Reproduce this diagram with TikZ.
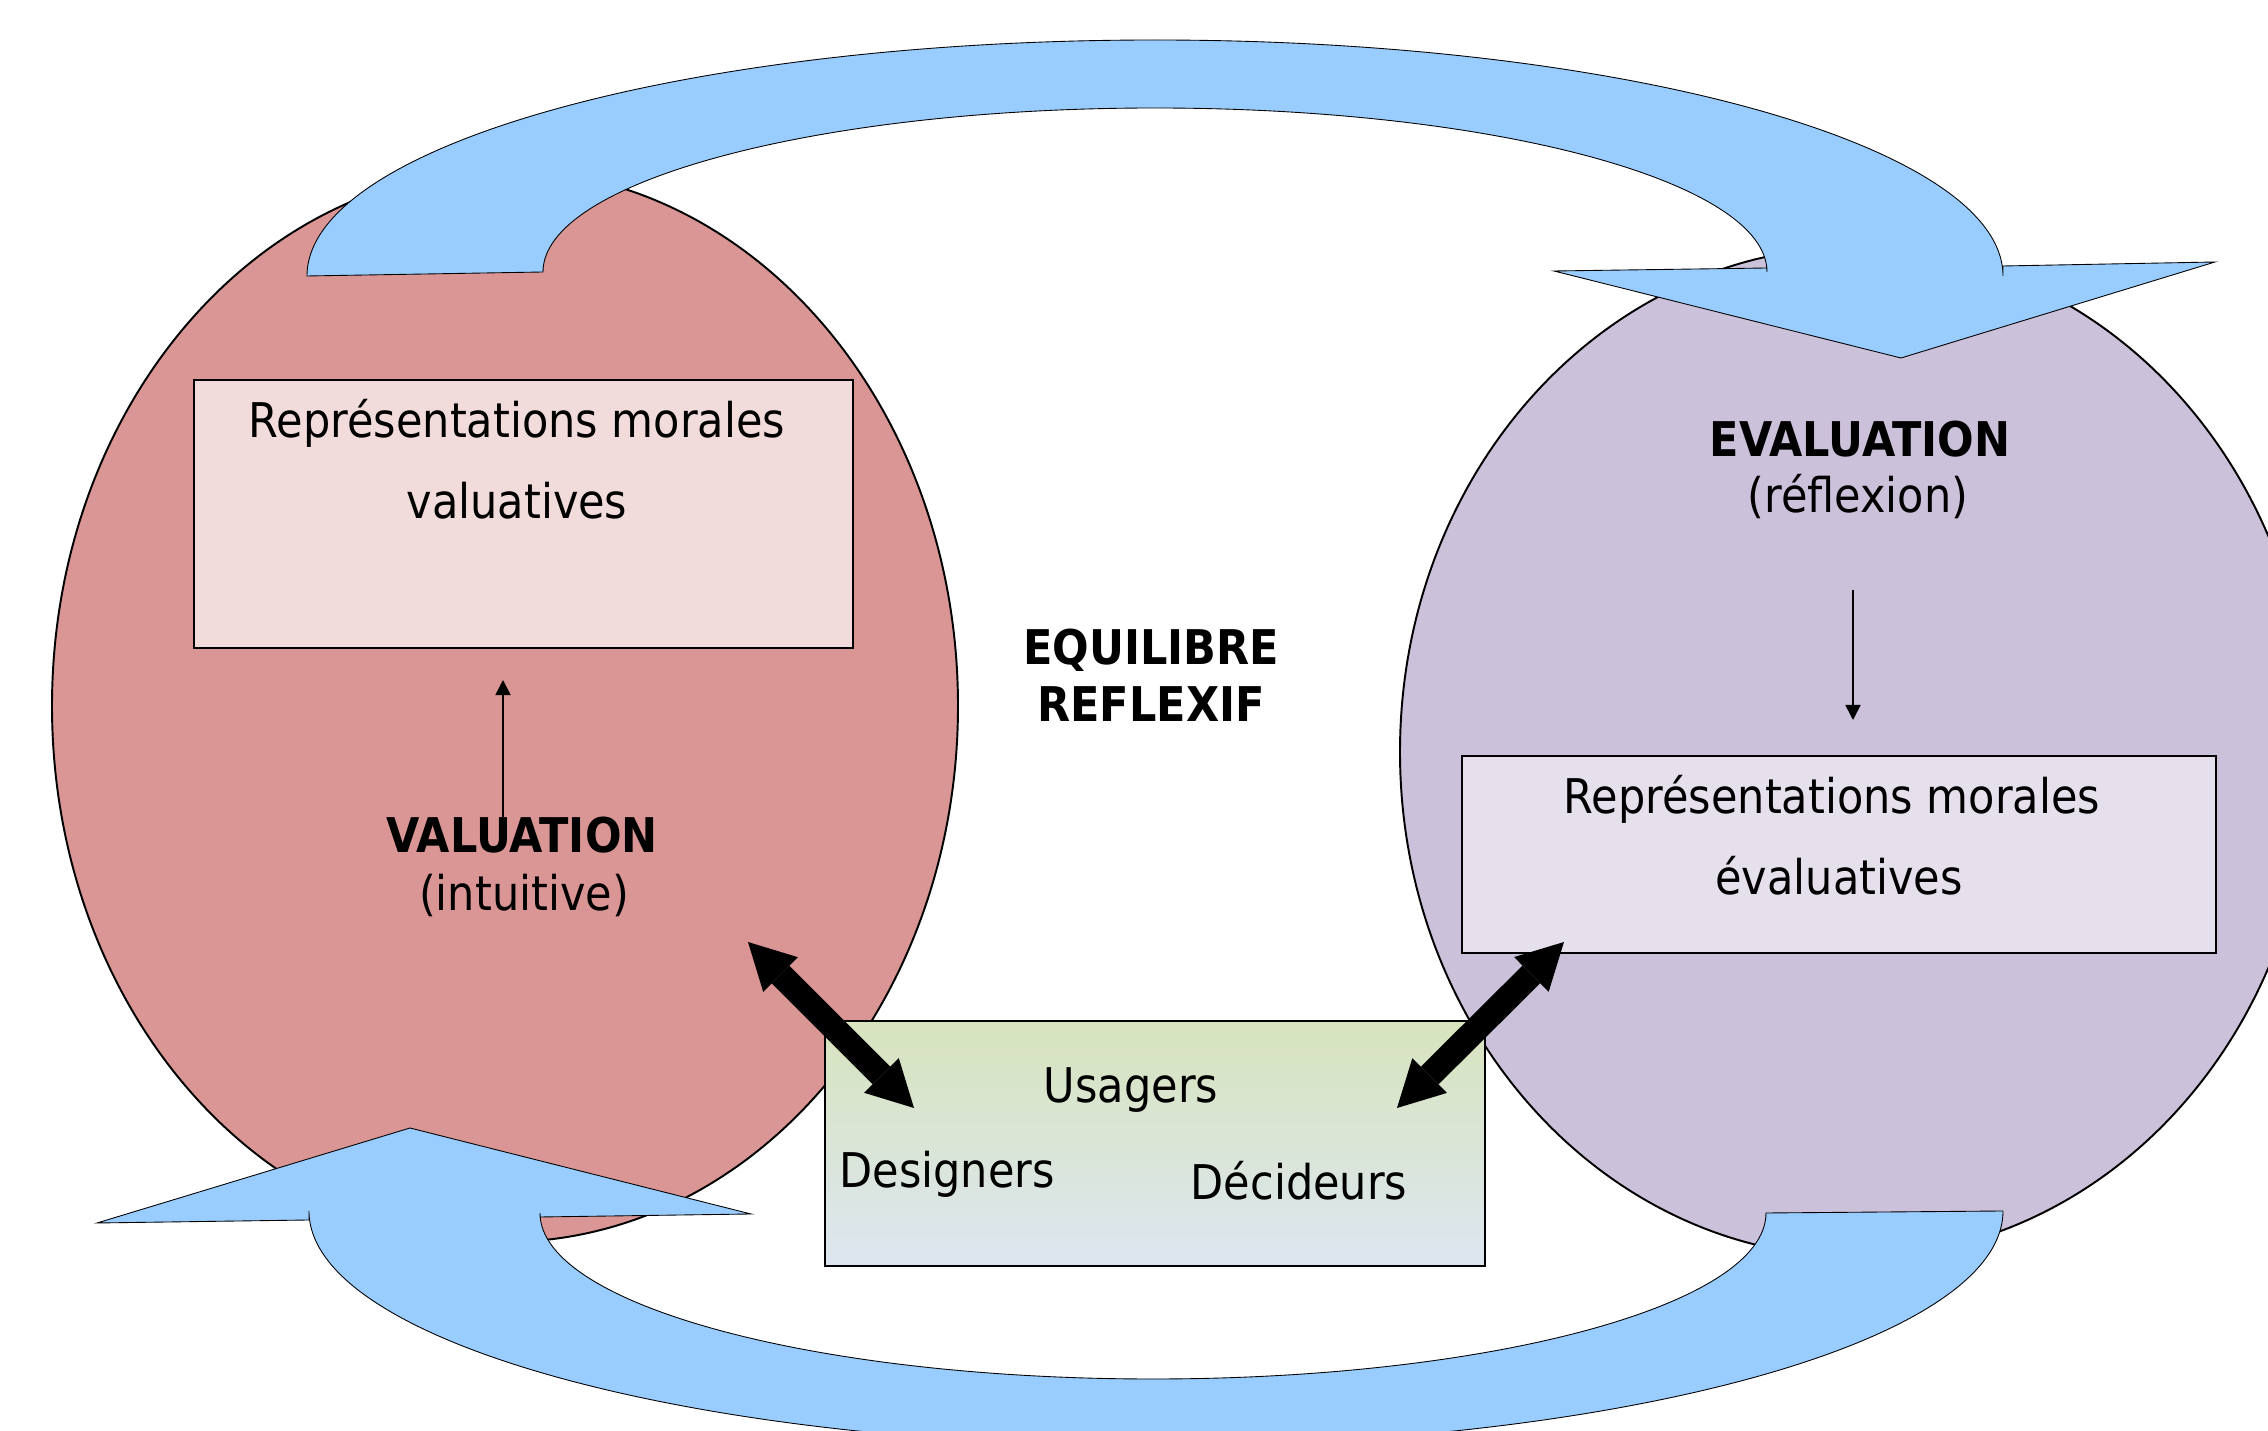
\documentclass[tikz,border=0pt]{standalone}
\usepackage{fontspec}
\setmainfont{DejaVu Sans}[FakeStretch=0.9]
\usetikzlibrary{arrows.meta}
\definecolor{valred}{RGB}{217,150,148}
\definecolor{evalmauve}{RGB}{204,193,218}
\definecolor{cycleblue}{RGB}{153,204,255}
\definecolor{valpink}{RGB}{242,220,219}
\definecolor{evallilac}{RGB}{229,224,236}
\definecolor{usegreen}{RGB}{215,228,189}
\definecolor{usegrey}{RGB}{221,230,241}

\begin{document}
\begin{tikzpicture}[
  x=0.01cm, y=-0.01cm,
  every node/.style = {inner sep=0pt, font=\fontsize{13.6}{16}\selectfont},
  zone/.style = {draw=black, line width=0.55pt},
  loopband/.style = {draw=black, line width=0.25pt, fill=cycleblue},
  card/.style = {shape=rectangle, draw=black, line width=0.5pt},
  headline/.style = {font=\fontsize{13.6}{16}\selectfont\bfseries},
  nudge/.style = {line width=0.5pt, -{Triangle[length=1.5mm,width=1.5mm]}},
  duplex/.style = {line width=2.5mm,
    {Triangle[length=4.6mm,width=4.9mm,line width=0pt]}-{Triangle[length=4.6mm,width=4.9mm,line width=0pt]}}]
  \useasboundingbox (0,0) rectangle (2268,1431);
  \clip (0,0) rectangle (2268,1431);

  \filldraw[zone, fill=valred] (505,706) ellipse [x radius=453, y radius=536];
  \filldraw[zone, fill=evalmauve] (1856,752) ellipse [x radius=456, y radius=505];

  \filldraw[loopband] (307,276) arc [start angle=180, end angle=360, x radius=848, y radius=236]
    -- (2003,266) -- (2215,262) -- (1901,358) -- (1554,271) -- (1767,268)
    -- (1767,272) arc [start angle=0, end angle=-180, x radius=612, y radius=164] -- cycle;
  \filldraw[loopband] (2003,1211) arc [start angle=0, end angle=180, x radius=847, y radius=235]
    -- (309,1220) -- (97,1223) -- (410,1128) -- (751,1214) -- (540,1217)
    -- (540,1213) arc [start angle=180, end angle=0, x radius=613, y radius=166] -- cycle;

  \node[card, fill=valpink, minimum width=6.59cm, minimum height=2.68cm] (valbox) at (523.5,514) {};
  \node[card, fill=evallilac, minimum width=7.54cm, minimum height=1.97cm] (evalbox) at (1839,854.5) {};
  \node[card, top color=usegreen, bottom color=usegrey, minimum width=6.6cm, minimum height=2.45cm] (actors) at (1155,1143.5) {};

  \node[anchor=base] (valrep) at (517,438) {Représentations morales};
  \node[anchor=base] (valadj) at (517,519) {valuatives};
  \node[anchor=base] (evalrep) at (1832,814) {Représentations morales};
  \node[anchor=base] (evaladj) at (1839,895) {évaluatives};

  \node[headline, anchor=base] (valuation) at (522,853) {VALUATION};
  \node[anchor=base] (intuitive) at (524,911) {(intuitive)};
  \node[headline, anchor=base] (equilibre) at (1151,665) {EQUILIBRE};
  \node[headline, anchor=base] (reflexif) at (1151,722) {REFLEXIF};
  \node[headline, anchor=base] (evaluation) at (1860,457) {EVALUATION};
  \node[anchor=base] (reflexion) at (1858,513) {(réflexion)};

  \node[anchor=base] (usagers) at (1131,1103) {Usagers};
  \node[anchor=base] (designers) at (947,1188) {Designers};
  \node[anchor=base] (decideurs) at (1299,1200) {Décideurs};

  \coordinate (valhead) at (503,680);
  \coordinate (evaltail) at (1853,590);
  \coordinate (evalhead) at (1853,720);
  \draw[nudge] (valuation.north -| valhead) -- (valhead);
  \draw[nudge] (evaltail) -- (evalhead);

  \coordinate (valgrip) at (748,942);
  \coordinate (designgrip) at (914,1108);
  \coordinate (evalgrip) at (1564,942);
  \coordinate (decidegrip) at (1397,1108);
  \draw[duplex] (valgrip) -- (designgrip);
  \draw[duplex] (evalgrip) -- (decidegrip);
\end{tikzpicture}
\end{document}
